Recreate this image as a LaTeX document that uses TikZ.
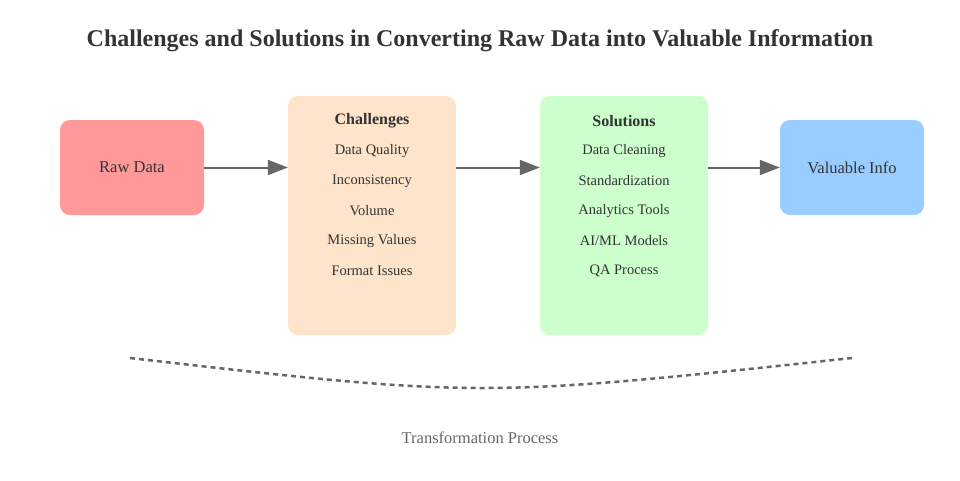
\documentclass[tikz,border=0pt]{standalone}
\usepackage{fontspec}
\setmainfont{Liberation Serif}
\usepackage{tikz}
\usetikzlibrary{arrows.meta}
\definecolor{rawred}{HTML}{FF9999}
\definecolor{peach}{HTML}{FFE4CC}
\definecolor{mint}{HTML}{CCFFCC}
\definecolor{skyblue}{HTML}{99CCFF}
\definecolor{txtgray}{HTML}{333333}
\definecolor{linegray}{HTML}{666666}

\begin{document}
\begin{tikzpicture}[x=1pt,y=-1pt,nodes={text=txtgray},
  box/.style={rounded corners=10pt,inner sep=0pt},
  item/.style={font=\fontsize{14.5}{16}\selectfont},
  flow/.style={draw=linegray,line width=2pt,-{Triangle[length=20pt,width=15pt]}}]
\useasboundingbox (0,0) rectangle (960,480);
\node (title) at (480,41) {\fontsize{24}{28}\selectfont\bfseries Challenges and Solutions in Converting Raw Data into Valuable Information};
% the four boxes
\node[box,fill=rawred,minimum width=144pt,minimum height=95pt] (raw) at (132,167.5)
  {\fontsize{16.5}{18}\selectfont Raw Data};
\node[box,fill=peach,minimum width=168pt,minimum height=239pt] (chal) at (372,215.5) {};
\node[box,fill=mint,minimum width=168pt,minimum height=239pt] (sol) at (624,215.5) {};
\node[box,fill=skyblue,minimum width=144pt,minimum height=95pt] (info) at (852,167.5)
  {\fontsize{16.5}{18}\selectfont Valuable Info};
% box contents
\node (chalhead) at (372,121) {\fontsize{16}{18}\selectfont\bfseries Challenges};
\node (solhead) at (624,121) {\fontsize{16}{18}\selectfont\bfseries Solutions};
\foreach \txt [count=\i] in {Data Quality,Inconsistency,Volume,Missing Values,Format Issues}
  \node[item] (c\i) at (372,121+30*\i) {\txt};
\foreach \txt [count=\i] in {Data Cleaning,Standardization,Analytics Tools,AI/ML Models,QA Process}
  \node[item] (s\i) at (624,121+30*\i) {\txt};
% arrows
\draw[flow] (raw.east) -- (raw.east -| chal.west);
\draw[flow] (chal.east |- raw.east) -- (sol.west |- raw.east);
\draw[flow] (sol.east |- raw.east) -- (info.west);
% process curve
\coordinate (curvel) at (130,358);
\coordinate (curver) at (852,358);
\draw[linegray,line width=2.5pt,dash pattern=on 5pt off 4pt] (curvel) .. controls (480,398) .. (curver);
\node[text=linegray] (proc) at (480,438) {\fontsize{16.5}{18}\selectfont Transformation Process};
\end{tikzpicture}
\end{document}
